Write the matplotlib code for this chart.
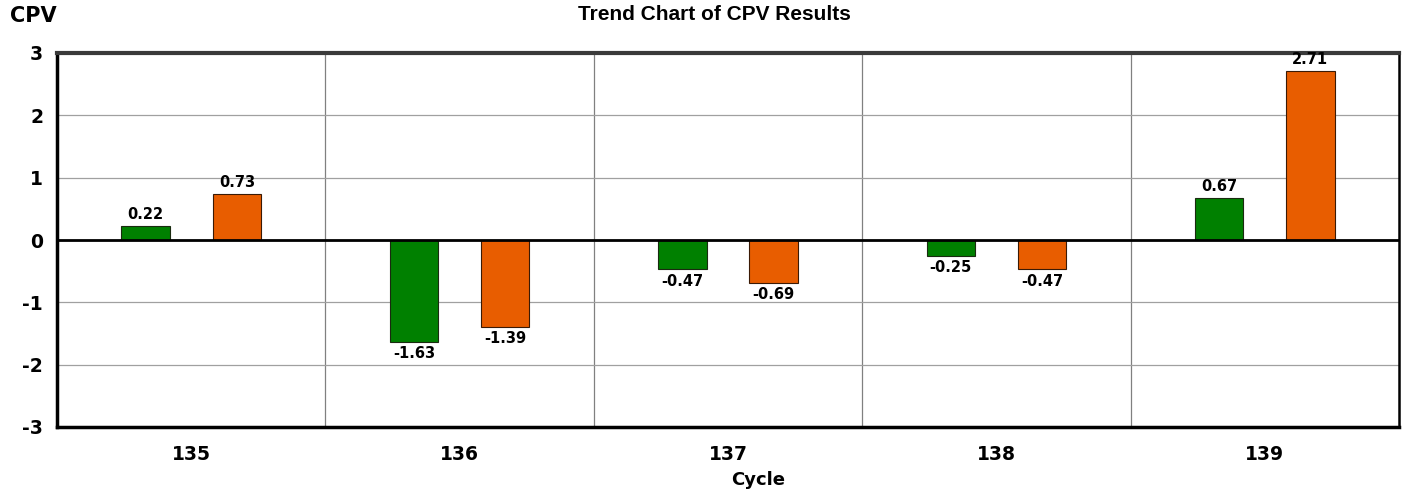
import numpy as np
import matplotlib.pyplot as plt

plt.rcParams['axes.unicode_minus'] = False

# Daten
cycles = ['135', '136', '137', '138', '139']
cpv_green = [0.22, -1.63, -0.47, -0.25, 0.67]
cpv_orange = [0.73, -1.39, -0.69, -0.47, 2.71]

W, H = 1402, 495
fig = plt.figure(figsize=(W / 100, H / 100), dpi=100)
ax = fig.add_axes([57 / W, 1 - 427 / H, (1399 - 57) / W, (427 - 53) / H])

x = np.arange(len(cycles))
bw = 0.18
off = 0.17
lab_font = 'DejaVu Sans'

ax.bar(x - off, cpv_green, bw, color='#008000', edgecolor='#1a2a10', linewidth=0.8, zorder=3)
ax.bar(x + off, cpv_orange, bw, color='#E85D00', edgecolor='#3a1a05', linewidth=0.8, zorder=3)

for xs, vals in [(x - off, cpv_green), (x + off, cpv_orange)]:
    for xi, v in zip(xs, vals):
        if v >= 0:
            ax.text(xi, v + 0.07, f'{v:.2f}', ha='center', va='bottom', fontsize=10.5,
                    fontweight='bold', family=lab_font, zorder=4)
        else:
            ax.text(xi, v - 0.07, f'{v:.2f}', ha='center', va='top', fontsize=10.5,
                    fontweight='bold', family=lab_font, zorder=4)

ax.set_xlim(-0.5, len(cycles) - 0.5)
ax.set_ylim(-3, 3)
ax.set_yticks(range(-3, 4))
ax.set_xticks(x)
ax.set_xticklabels(cycles)

# Gitter
for gx in np.arange(0.5, len(cycles) - 0.5, 1):
    ax.axvline(gx, color='#808080', linewidth=0.9, zorder=1)
for gy in range(-2, 3):
    ax.axhline(gy, color='#a0a0a0', linewidth=0.9, zorder=1)
ax.axhline(0, color='black', linewidth=2, zorder=3.5)

for s in ['left', 'bottom']:
    ax.spines[s].set_linewidth(2.5)
    ax.spines[s].set_color('black')
ax.spines['top'].set_linewidth(3)
ax.spines['top'].set_color('#3a3a3a')
ax.spines['right'].set_linewidth(1.8)
ax.spines['right'].set_color('black')

ax.tick_params(length=0)
ax.tick_params(axis='y', pad=10)
ax.tick_params(axis='x', pad=13)
for t in ax.get_xticklabels() + ax.get_yticklabels():
    t.set_fontsize(13.5)
    t.set_fontweight('bold')
    t.set_family(lab_font)

fig.text(714 / W, 1 - 14 / H, 'Trend Chart of CPV Results', ha='center', va='center',
         fontsize=15, fontweight='bold', family='Liberation Sans')
fig.text(10 / W, 1 - 16 / H, 'CPV', ha='left', va='center', fontsize=15,
         fontweight='bold', family=lab_font)
fig.text(758 / W, 1 - 480 / H, 'Cycle', ha='center', va='center', fontsize=13,
         fontweight='bold', family=lab_font)

fig.savefig('out.png', dpi=100)
